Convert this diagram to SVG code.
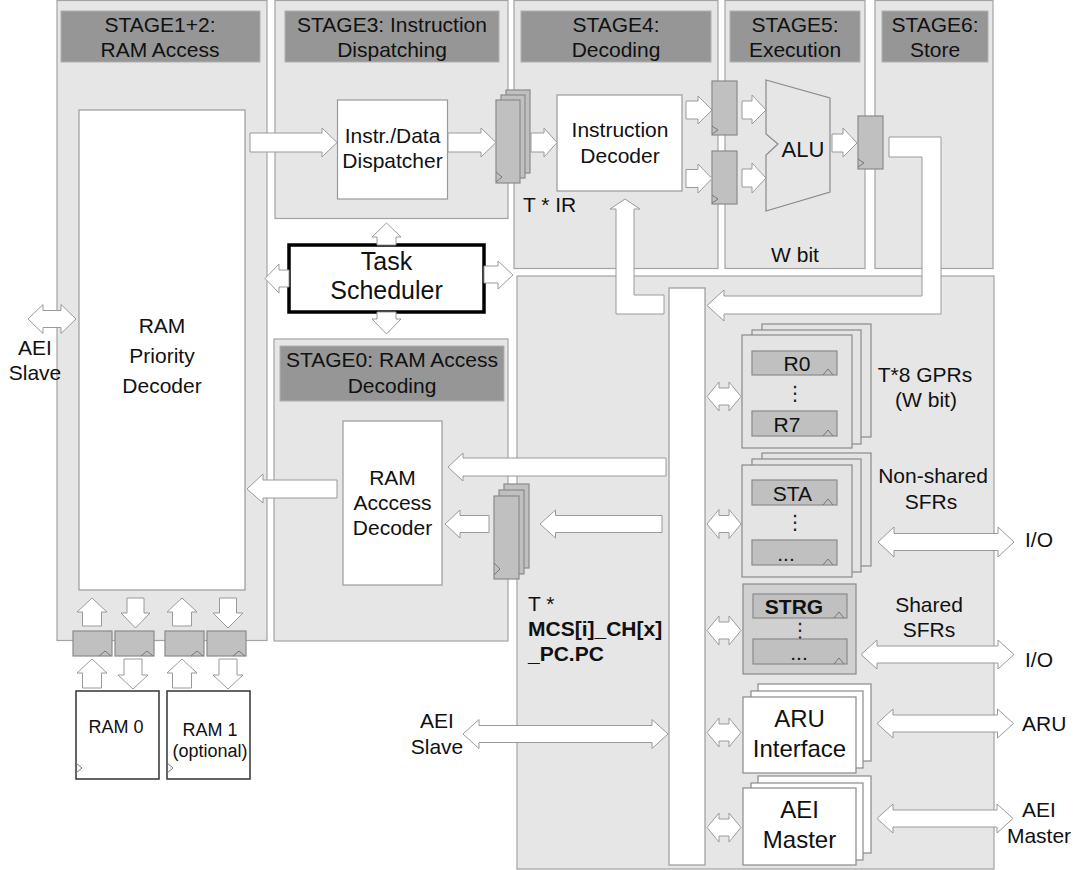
<svg xmlns="http://www.w3.org/2000/svg" width="1080" height="870" viewBox="0 0 1080 870">
<style>
.panel{fill:#e6e6e6;stroke:#a3a3a3;stroke-width:1.2}
.hdr{fill:#969696;stroke:#b0b0b0;stroke-width:1}
.box{fill:#ffffff;stroke:#9a9a9a;stroke-width:1.2}
.reg{fill:#c0c0c0;stroke:#8a8a8a;stroke-width:1.2}
.stk{fill:#e4e4e4;stroke:#8a8a8a;stroke-width:1.2}
.wstk{fill:#ffffff;stroke:#8a8a8a;stroke-width:1.2}
.arr{fill:#ffffff;stroke:#9a9a9a;stroke-width:1}
.clk{fill:none;stroke:#777;stroke-width:1}
text{font-family:"Liberation Sans",Arial,sans-serif;font-size:21px;fill:#111}
.c{text-anchor:middle}
.b{font-weight:bold}
.sm{font-size:18px}
.big{font-size:24px}
.dots{font-family:"DejaVu Sans",sans-serif;font-size:20px;fill:#222}
</style>
<rect width="1080" height="870" fill="#ffffff"/>

<g id="stage12">
<rect class="panel" x="57" y="0.5" width="210" height="640"/>
<rect class="hdr" x="61" y="11" width="199" height="51"/>
<text class="c" x="160" y="32">STAGE1+2:</text>
<text class="c" x="160" y="57">RAM Access</text>
</g>
<g id="stage3">
<rect class="panel" x="275" y="0.5" width="233" height="218"/>
<rect class="hdr" x="285" y="11" width="214" height="51"/>
<text class="c" x="392" y="32">STAGE3: Instruction</text>
<text class="c" x="392" y="57">Dispatching</text>
</g>
<g id="stage4">
<rect class="panel" x="514" y="0.5" width="204" height="268"/>
<rect class="hdr" x="521" y="11" width="190" height="51"/>
<text class="c" x="616" y="32">STAGE4:</text>
<text class="c" x="616" y="57">Decoding</text>
</g>
<g id="stage5">
<rect class="panel" x="725" y="0.5" width="140" height="268"/>
<rect class="hdr" x="730" y="11" width="130" height="51"/>
<text class="c" x="795" y="32">STAGE5:</text>
<text class="c" x="795" y="57">Execution</text>
<text class="c" x="795" y="262">W bit</text>
</g>
<g id="stage6">
<rect class="panel" x="875" y="0.5" width="118" height="268"/>
<rect class="hdr" x="882" y="11" width="106" height="51"/>
<text class="c" x="935" y="32">STAGE6:</text>
<text class="c" x="935" y="57">Store</text>
</g>
<g id="stage0">
<rect class="panel" x="274" y="339" width="234" height="302"/>
<rect class="hdr" x="280" y="346" width="224" height="55"/>
<text class="c" x="392" y="367">STAGE0: RAM Access</text>
<text class="c" x="392" y="393">Decoding</text>
</g>
<g id="regfile-panel">
<rect class="panel" x="517" y="276" width="477" height="593"/>
</g>

<g id="ram-priority-decoder">
<rect class="box" x="79" y="110" width="166" height="480"/>
<text class="c" x="162" y="333">RAM</text>
<text class="c" x="162" y="363">Priority</text>
<text class="c" x="162" y="393">Decoder</text>
</g>
<g id="dispatcher">
<rect class="box" x="337.5" y="100" width="110" height="99"/>
<text class="c" x="392.5" y="143">Instr./Data</text>
<text class="c" x="392.5" y="168">Dispatcher</text>
</g>
<g id="ir-regs">
<rect class="reg" x="506" y="90" width="24" height="83"/>
<rect class="reg" x="501" y="95" width="24" height="83"/>
<rect class="reg" x="496" y="100" width="24" height="83"/>
<polyline class="clk" points="496,172 502,177 496,182"/>
<text x="523" y="212">T * IR</text>
</g>
<g id="instruction-decoder">
<rect class="box" x="557" y="95" width="125" height="96"/>
<text class="c" x="620" y="137">Instruction</text>
<text class="c" x="620" y="163">Decoder</text>
</g>
<g id="op-reg-a">
<rect class="reg" x="712" y="81" width="25" height="54"/>
<polyline class="clk" points="712,126 718,130 712,134"/>
</g>
<g id="op-reg-b">
<rect class="reg" x="712" y="151" width="25" height="53"/>
<polyline class="clk" points="712,195 718,199 712,203"/>
</g>
<g id="alu">
<polygon points="766,80 830,98 830,192 766,211 766,155 778,144 766,134" fill="#e6e6e6" stroke="#8a8a8a" stroke-width="1.2"/>
<text class="c" x="803" y="157" style="font-size:22px">ALU</text>
</g>
<g id="result-reg">
<rect class="reg" x="858" y="116" width="25" height="53"/>
<polyline class="clk" points="858,159 864,163 858,167"/>
</g>
<g id="task-scheduler">
<rect x="289" y="245" width="195" height="67" fill="#ffffff" stroke="#000" stroke-width="3.5"/>
<text class="c" x="386.5" y="270" style="font-size:25px">Task</text>
<text class="c" x="386.5" y="299" style="font-size:25px">Scheduler</text>
</g>
<g id="ram-access-decoder">
<rect class="box" x="343" y="421" width="99" height="164"/>
<text class="c" x="392.5" y="485">RAM</text>
<text class="c" x="392.5" y="510">Acccess</text>
<text class="c" x="392.5" y="535">Decoder</text>
</g>
<g id="pc-regs">
<rect class="reg" x="504" y="484" width="25" height="84"/>
<rect class="reg" x="499" y="490" width="25" height="84"/>
<rect class="reg" x="494" y="496" width="25" height="83"/>
<polyline class="clk" points="494,563 500,569 494,575"/>
<text x="528" y="611">T *</text>
<text class="b" x="528" y="636">MCS[i]_CH[x]</text>
<text class="b" x="528" y="661">_PC.PC</text>
</g>
<g id="ram-regs">
<rect class="reg" x="73" y="631" width="39" height="25"/>
<polyline class="clk" points="99,656 105,651 111,656"/>
<rect class="reg" x="115" y="631" width="39" height="25"/>
<polyline class="clk" points="141,656 147,651 153,656"/>
<rect class="reg" x="165" y="631" width="39" height="25"/>
<polyline class="clk" points="191,656 197,651 203,656"/>
<rect class="reg" x="207" y="631" width="39" height="25"/>
<polyline class="clk" points="233,656 239,651 245,656"/>
</g>
<g id="ram0">
<rect x="76" y="691" width="83" height="88" fill="#fff" stroke="#333" stroke-width="1.5"/>
<polyline class="clk" points="76,763 82,768 76,773"/>
<text class="c sm" x="116" y="733">RAM 0</text>
</g>
<g id="ram1">
<rect x="167" y="691" width="83" height="88" fill="#fff" stroke="#333" stroke-width="1.5"/>
<polyline class="clk" points="167,763 173,768 167,773"/>
<text class="c sm" x="210" y="736">RAM 1</text>
<text class="c sm" x="210" y="757">(optional)</text>
</g>
<g id="bus">
<rect x="669" y="288" width="36" height="577" fill="#fff" stroke="#9a9a9a" stroke-width="1.2"/>
</g>
<g id="gprs">
<rect class="stk" x="762" y="324" width="109" height="113"/>
<rect class="stk" x="752" y="330" width="109" height="114"/>
<rect class="stk" x="742" y="335" width="110" height="113"/>
<rect class="reg" x="752" y="351" width="85" height="24"/>
<polyline class="clk" points="823,375 828,369 833,375"/>
<text class="c" x="797" y="371">R0</text>
<text class="c dots" x="795" y="400">⋮</text>
<rect class="reg" x="752" y="411" width="85" height="25"/>
<polyline class="clk" points="823,436 828,430 833,436"/>
<text class="c" x="787" y="432">R7</text>
<text class="c" x="925" y="382">T*8 GPRs</text>
<text class="c" x="926" y="407">(W bit)</text>
</g>
<g id="nonshared-sfrs">
<rect class="stk" x="762" y="453" width="109" height="113"/>
<rect class="stk" x="752" y="459" width="109" height="113"/>
<rect class="stk" x="742" y="465" width="110" height="112"/>
<rect class="reg" x="752" y="480" width="85" height="25"/>
<polyline class="clk" points="823,505 828,499 833,505"/>
<text class="c" x="792.5" y="501">STA</text>
<text class="c dots" x="795" y="529">⋮</text>
<rect class="reg" x="752" y="540" width="85" height="25"/>
<polyline class="clk" points="823,565 828,559 833,565"/>
<text class="c" x="786" y="561">...</text>
<text class="c" x="933" y="483">Non-shared</text>
<text class="c" x="931" y="509">SFRs</text>
</g>
<g id="shared-sfrs">
<rect x="743" y="584" width="113" height="90" fill="#d0d0d0" stroke="#8a8a8a" stroke-width="1.2"/>
<rect class="reg" x="753" y="594" width="94" height="24"/>
<polyline class="clk" points="834,618 839,612 844,618"/>
<text class="c b" x="794" y="614">STRG</text>
<text class="c dots" x="800" y="637">⋮</text>
<rect class="reg" x="753" y="639" width="94" height="25"/>
<polyline class="clk" points="834,664 839,658 844,664"/>
<text class="c" x="799" y="660">...</text>
<text class="c" x="929" y="612">Shared</text>
<text class="c" x="929" y="637">SFRs</text>
</g>
<g id="aru-interface">
<rect class="wstk" x="758" y="684" width="113" height="77"/>
<rect class="wstk" x="751" y="691" width="112" height="77"/>
<rect class="wstk" x="743" y="697" width="113" height="76"/>
<text class="c big" x="799.5" y="727">ARU</text>
<text class="c big" x="799.5" y="757">Interface</text>
</g>
<g id="aei-master">
<rect class="wstk" x="758" y="776" width="113" height="77"/>
<rect class="wstk" x="751" y="783" width="112" height="77"/>
<rect class="wstk" x="743" y="788" width="113" height="77"/>
<text class="c big" x="799.5" y="818">AEI</text>
<text class="c big" x="799.5" y="848">Master</text>
</g>
<g id="labels">
<text class="c" x="35" y="355">AEI</text>
<text class="c" x="35" y="380">Slave</text>
<text class="c" x="437" y="728">AEI</text>
<text class="c" x="437" y="754">Slave</text>
<text x="1025" y="547">I/O</text>
<text x="1025" y="667">I/O</text>
<text x="1022" y="731">ARU</text>
<text class="c" x="1039" y="817">AEI</text>
<text class="c" x="1039" y="843">Master</text>
</g>

<g id="connectors">
<polygon class="arr" points="250,133 322,133 322,128 337,142.5 322,157 322,152 250,152"/>
<polygon class="arr" points="448,133 481,133 481,128 496,142.5 481,157 481,152 448,152"/>
<polygon class="arr" points="531,133 544,133 544,128 557,142.5 544,157 544,152 531,152"/>
<polygon class="arr" points="686,101 698,101 698,96 712,110 698,124 698,119 686,119"/>
<polygon class="arr" points="686,169.5 698,169.5 698,164 712,178.5 698,193 698,187.5 686,187.5"/>
<polygon class="arr" points="742,101 752,101 752,95 766,110 752,124 752,119 742,119"/>
<polygon class="arr" points="742,169 752,169 752,163 766,178 752,193 752,187 742,187"/>
<polygon class="arr" points="832,134 843,134 843,128 857,143 843,157 843,152 832,152"/>
<polygon class="arr" points="889,137 941,137 941,314 724,314 724,321 707,305.5 724,290 724,296 922,296 922,157 889,157"/>
<polygon class="arr" points="625,199 640,209 634,209 634,295 664,295 664,314 616,314 616,209 610,209"/>
<polygon class="arr" points="386.5,223 401,237 396,237 396,245 377,245 377,237 372,237"/>
<polygon class="arr" points="377,312 396,312 396,319 401,319 386.5,334 372,319 377,319"/>
<polygon class="arr" points="265,278.5 279,264 279,270 289,270 289,287 279,287 279,293"/>
<polygon class="arr" points="484,266 498,266 498,261 513,275 498,289 498,283 484,283"/>
<polygon class="arr" points="666,458 463,458 463,453 448,467 463,481 463,476 666,476"/>
<polygon class="arr" points="662,515.5 555.5,515.5 555.5,510 540,524 555.5,538 555.5,532.5 662,532.5"/>
<polygon class="arr" points="489,515.5 460,515.5 460,510 445,524 460,538 460,532.5 489,532.5"/>
<polygon class="arr" points="337,480 263,480 263,474 247,489 263,503 263,498 337,498"/>
<polygon class="arr" points="92,598 107,612 101.5,612 101.5,626 82.5,626 82.5,612 77,612"/>
<polygon class="arr" points="127,598 144,598 144,613 150,613 135.5,628 121,613 127,613"/>
<polygon class="arr" points="182,598 197,612 191.5,612 191.5,626 172.5,626 172.5,612 167,612"/>
<polygon class="arr" points="219.5,598 236.5,598 236.5,613 243,613 228,628 213,613 219.5,613"/>
<polygon class="arr" points="92,659 107,673 101.5,673 101.5,688 82.5,688 82.5,673 77,673"/>
<polygon class="arr" points="124,659 142,659 142,675 148,675 133,689 118,675 124,675"/>
<polygon class="arr" points="182,659 197,673 191.5,673 191.5,688 172.5,688 172.5,673 167,673"/>
<polygon class="arr" points="219,659 237,659 237,675 243,675 228,689 213,675 219,675"/>
<polygon class="arr" points="28,319 43,304.5 43,310.5 61,310.5 61,304.5 76,319 61,333.5 61,327.5 43,327.5 43,333.5"/>
<polygon class="arr" points="463,734 479,719.5 479,725.5 652,725.5 652,719.5 668,734 652,748.5 652,742.5 479,742.5 479,748.5"/>
<polygon class="arr" points="707,396.5 719,382 719,388 729,388 729,382 741,396.5 729,411 729,405 719,405 719,411"/>
<polygon class="arr" points="707,524 719,509.5 719,515.5 729,515.5 729,509.5 741,524 729,538.5 729,532.5 719,532.5 719,538.5"/>
<polygon class="arr" points="707,630.5 719,616 719,622 729,622 729,616 741,630.5 729,645 729,639 719,639 719,645"/>
<polygon class="arr" points="707,732.5 719,718 719,724 729,724 729,718 741,732.5 729,747 729,741 719,741 719,747"/>
<polygon class="arr" points="707,827.5 719,813 719,819 729,819 729,813 741,827.5 729,842 729,836 719,836 719,842"/>
<polygon class="arr" points="878,542 894,527 894,533.5 998,533.5 998,527 1014,542 998,557 998,550.5 894,550.5 894,557"/>
<polygon class="arr" points="861,654.5 877,640 877,646 998,646 998,640 1014,654.5 998,669 998,663 877,663 877,669"/>
<polygon class="arr" points="877,723.5 893,709 893,715 997.5,715 997.5,709 1013.5,723.5 997.5,738 997.5,732 893,732 893,738"/>
<polygon class="arr" points="877,818.5 893,804 893,810 997,810 997,804 1013,818.5 997,833 997,827 893,827 893,833"/>
</g>
</svg>
